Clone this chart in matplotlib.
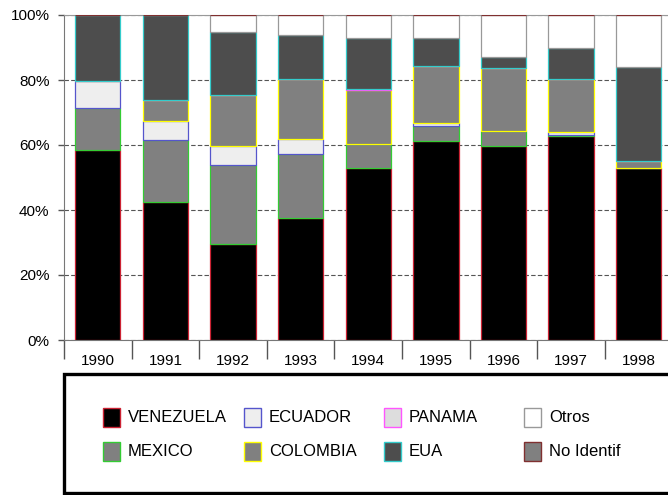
import numpy as np
import matplotlib
matplotlib.use('Agg')
import matplotlib.pyplot as plt
from matplotlib.patches import Rectangle

plt.rcParams['font.family'] = ['Liberation Sans', 'DejaVu Sans']

years = ['1990', '1991', '1992', '1993', '1994', '1995', '1996', '1997', '1998']

# shares in percent, stacked bottom to top
venezuela = [58.5, 42.4, 29.6, 37.6, 52.8, 61.3, 59.8, 62.9, 52.8]
mexico    = [13.0, 19.0, 24.4, 19.6,  7.4,  4.5,  4.6,  0.3,  0.0]
ecuador   = [ 8.3,  6.0,  5.8,  4.5,  0.0,  0.9,  0.0,  0.7,  0.0]
colombia  = [ 0.0,  6.4, 15.6, 18.5, 16.6, 17.6, 19.2, 16.3,  2.4]
panama    = [ 0.0,  0.0,  0.0,  0.0,  0.3,  0.0,  0.2,  0.2,  0.0]
eua       = [20.2, 26.2, 19.5, 13.5, 15.9,  8.7,  3.2,  9.3, 28.8]
otros     = [ 0.0,  0.0,  5.1,  6.3,  7.0,  7.0, 13.0, 10.3, 16.0]
no_ident  = [ 0.0,  0.0,  0.0,  0.0,  0.0,  0.0,  0.0,  0.0,  0.0]

series = [('VENEZUELA', venezuela, '#000000', '#cc2233'),
          ('MEXICO', mexico, '#808080', '#33cc33'),
          ('ECUADOR', ecuador, '#eeeeee', '#5555cc'),
          ('COLOMBIA', colombia, '#808080', '#ffff00'),
          ('PANAMA', panama, '#dddddd', '#ff55ff'),
          ('EUA', eua, '#4d4d4d', '#33cccc'),
          ('Otros', otros, '#ffffff', '#999999'),
          ('No Identif', no_ident, '#808080', '#803030')]

W, H = 668, 495
fig = plt.figure(figsize=(W / 100, H / 100), dpi=100)
ax = fig.add_axes([64 / W, 155 / H, 608.5 / W, 325 / H])

x = np.arange(len(years))
bottom = np.zeros(len(years))
for name, vals, fc, ec in series:
    vals = np.array(vals)
    ax.bar(x, vals, 0.67, bottom=bottom, color=fc, edgecolor=ec,
           linewidth=0.9, zorder=3)
    bottom += vals

ax.set_xlim(-0.5, 8.5)
ax.set_ylim(0, 100)
ax.set_yticks([0, 20, 40, 60, 80, 100])
ax.set_yticklabels(['0%', '20%', '40%', '60%', '80%', '100%'])
ax.yaxis.grid(True, color='#555555', linestyle=(0, (4, 2)), linewidth=0.8, zorder=1)

ax.set_xticks(x)
ax.set_xticklabels(years)
ax.set_xticks(np.arange(-0.5, 9.0, 1.0), minor=True)
ax.tick_params(axis='x', which='major', length=0, pad=10, labelsize=11)
ax.tick_params(axis='x', which='minor', length=14, color='#555555', width=1)
ax.tick_params(axis='y', length=4.5, color='#555555', width=1, labelsize=11, pad=6)

ax.spines['right'].set_visible(False)
ax.spines['left'].set_color('#777777')
ax.spines['bottom'].set_color('#777777')
ax.spines['top'].set_color('#999999')

# legend box
fig.patches.append(Rectangle((63.5 / W, 1 - 492.5 / H), 620 / W, 119 / H,
                             transform=fig.transFigure, facecolor='white',
                             edgecolor='black', linewidth=2.4))
col_x = [103, 244, 384, 524]
row_y = [417, 451]
for i, (name, vals, fc, ec) in enumerate(series):
    c, r = i // 2, i % 2
    x0 = col_x[c]
    y0 = row_y[r]
    fig.patches.append(Rectangle((x0 / W, 1 - (y0 + 9.5) / H), 17 / W, 19 / H,
                                 transform=fig.transFigure, facecolor=fc,
                                 edgecolor=ec, linewidth=1.0))
    fig.text((x0 + 25) / W, 1 - y0 / H, name, fontsize=12, va='center', ha='left')

plt.savefig('out.png', dpi=100)
